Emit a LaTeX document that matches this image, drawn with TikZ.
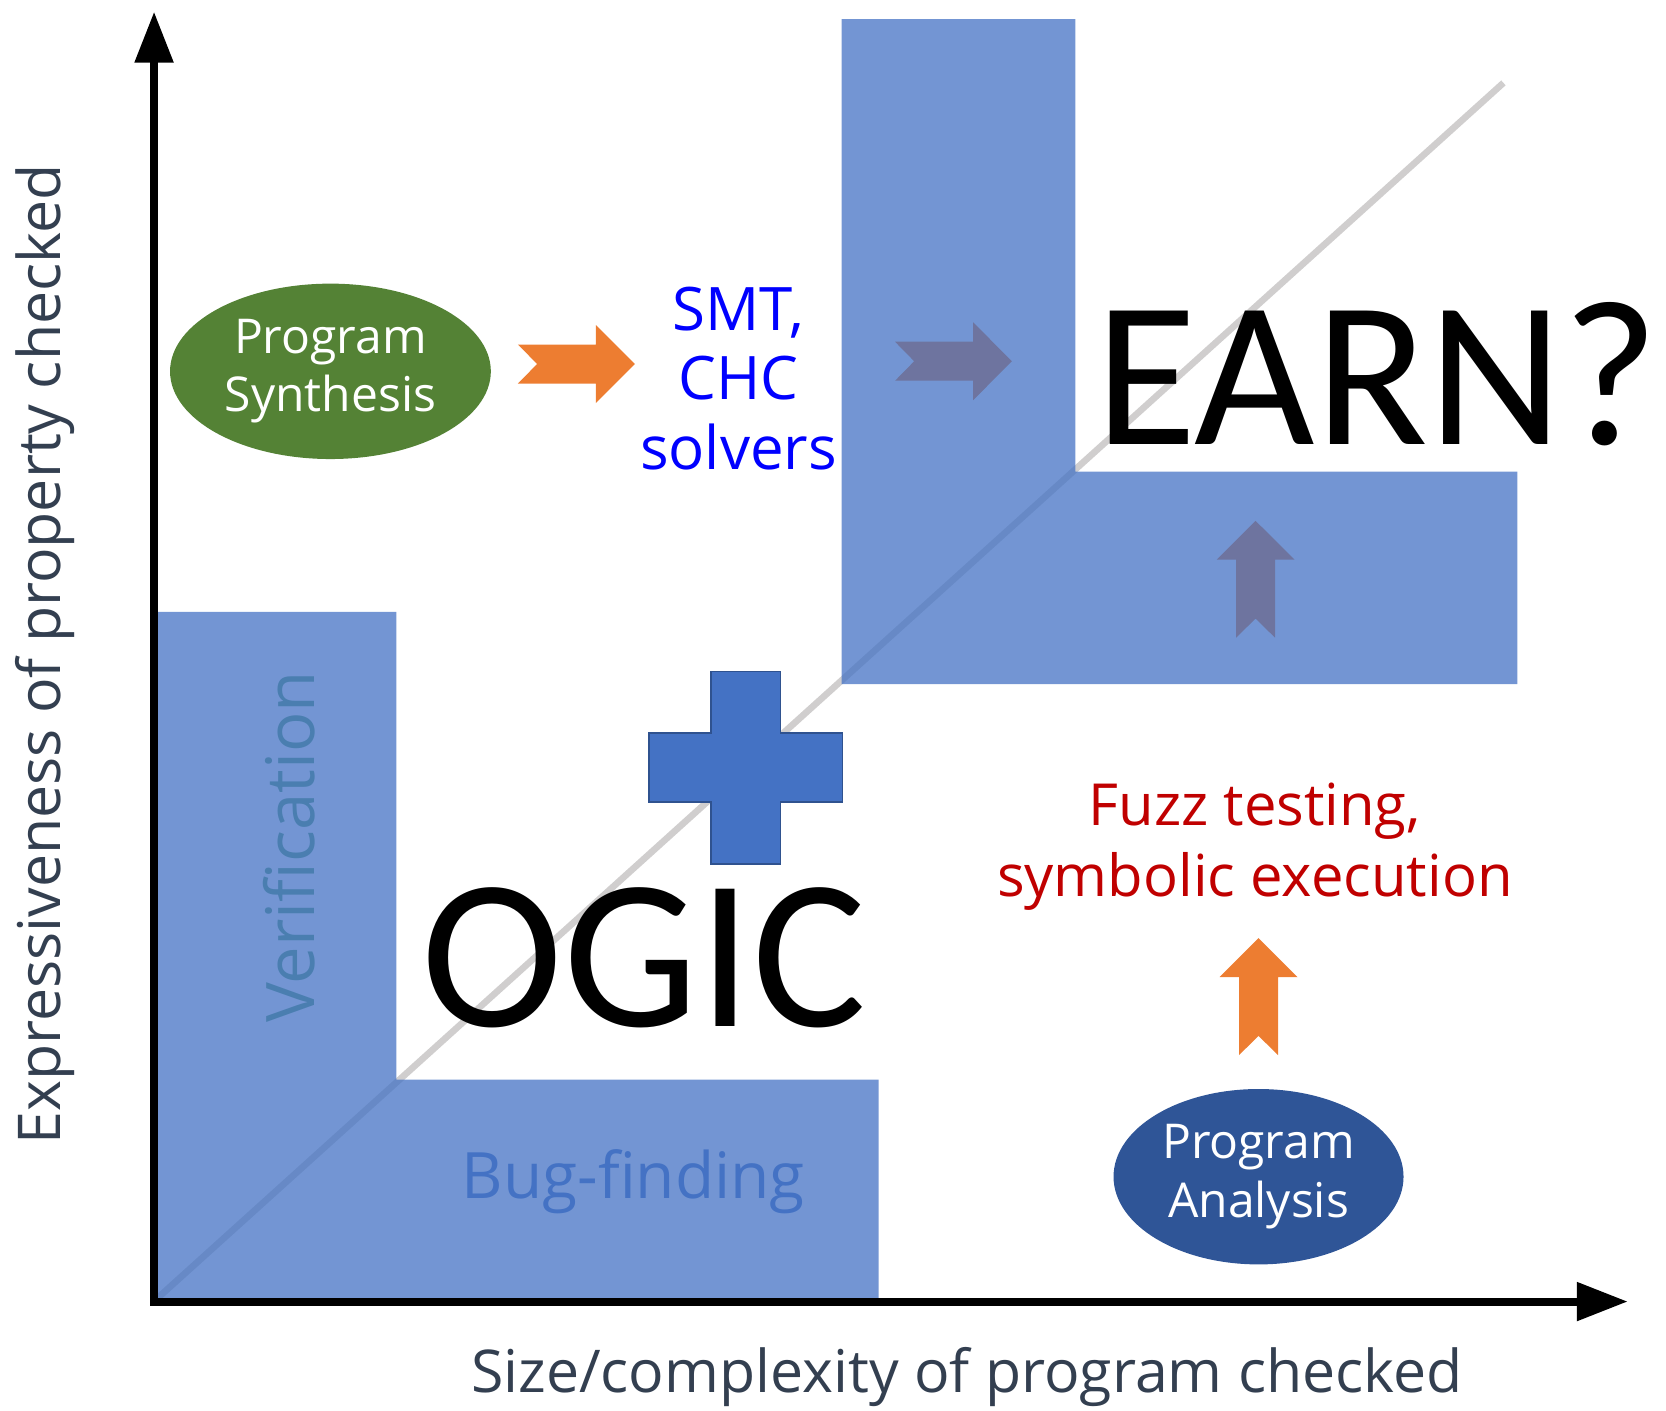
\documentclass[tikz,border=0pt]{standalone}
\usepackage{fontspec}
\setmainfont{Open Sans}
\newfontfamily\logicfont{Carlito}
\usetikzlibrary{arrows.meta,shapes.geometric}

\definecolor{accentBlue}{HTML}{4472C4}
\definecolor{accentOrange}{HTML}{ED7D31}
\definecolor{synthGreen}{HTML}{548235}
\definecolor{analysisBlue}{HTML}{2F5597}
\definecolor{crossEdge}{HTML}{2F528F}
\definecolor{diagGray}{HTML}{D0CECE}
\definecolor{axisText}{HTML}{333F50}
\definecolor{verifText}{HTML}{4A7EB0}
\definecolor{fuzzRed}{HTML}{C00000}
\definecolor{smtBlue}{HTML}{0000FF}

\tikzset{
  region/.style={fill=accentBlue, fill opacity=0.75, draw=none},
  axisline/.style={line width=4pt, line cap=rect, -{Triangle[length=25.5pt,width=18.6pt]}},
  axislabel/.style={text=axisText, inner sep=0pt, font=\fontsize{29.5}{35}\selectfont},
  bigword/.style={inner sep=0pt, font=\logicfont\fontsize{107}{107}\selectfont},
  blob/.style={ellipse, inner sep=0pt, text=white, align=center,
    minimum height=87.7pt, font=\fontsize{24}{29.2}\selectfont},
  blockarrow/.pic={
    \fill[accentOrange] (0,-18.35) -- (73.4,-18.35) -- (73.4,-36.7) -- (110,0)
      -- (73.4,36.7) -- (73.4,18.35) -- (0,18.35) -- (18,0) -- cycle;
  }
}

\begin{document}
\begin{tikzpicture}[x=0.53125pt, y=-0.53125pt]
\useasboundingbox (0,0) rectangle (1568,1328);

% diagonal reference line
\coordinate (diagstart) at (148,1222);
\coordinate (diagend) at (1415,78);
\draw[diagGray, line width=3.3pt] (diagstart) -- (diagend);

% arrows that sit under the upper region
\pic at (842.4,340) {blockarrow};
\pic[rotate=90] at (1181.7,600.2) {blockarrow};

% the two L-shaped regions
\fill[region] (148,576) -- (373,576) -- (373,1016) -- (827,1016) -- (827,1222) -- (148,1222) -- cycle;
\fill[region] (792,18) -- (1012,18) -- (1012,444) -- (1428,444) -- (1428,644) -- (792,644) -- cycle;

\node[rotate=90, text=verifText, inner sep=0pt, font=\fontsize{33.5}{40}\selectfont] (verif) at (272,797) {Verification};
\node[anchor=base, text=accentBlue, inner sep=0pt, font=\fontsize{32}{38}\selectfont] (bugs) at (596,1128) {Bug-finding};

% plus sign
\filldraw[fill=accentBlue, draw=crossEdge, line width=0.75pt]
  (669,632) -- (734.5,632) -- (734.5,690) -- (793,690) -- (793,755) -- (734.5,755)
  -- (734.5,813) -- (669,813) -- (669,755) -- (611,755) -- (611,690) -- (669,690) -- cycle;

\node[bigword, anchor=base] (ogic) at (606,966) {OGIC};
\node[bigword, anchor=base, font=\logicfont\fontsize{104}{104}\selectfont] (earn) at (1296,418) {EARN?};

% techniques
\node[blob, fill=synthGreen, minimum width=160.4pt] (synth) at (311,349.5) {Program\\Synthesis};
\pic at (487.5,342.6) {blockarrow};
\node[text=smtBlue, align=center, inner sep=0pt, font=\fontsize{30}{34.8}\selectfont] (smt) at (695,356) {SMT,\\CHC\\solvers};

\node[blob, fill=analysisBlue, minimum width=145pt] (analysis) at (1184.5,1107.5) {Program\\Analysis};
\pic[rotate=90] at (1184.5,993) {blockarrow};
\node[text=fuzzRed, align=center, inner sep=0pt, font=\fontsize{29}{35.5}\selectfont] (fuzz) at (1181,797) {Fuzz testing,\\symbolic execution};

% axes
\coordinate (origin) at (145,1225);
\coordinate (ytip) at (145,11);
\coordinate (xtip) at (1532,1225);
\draw[axisline] (origin) -- (ytip);
\draw[axisline] (origin) -- (xtip);

\node[axislabel, anchor=base] (xlabel) at (910,1311) {Size/complexity of program checked};
\node[axislabel, rotate=90] (ylabel) at (42,616) {Expressiveness of property checked};
\end{tikzpicture}
\end{document}
